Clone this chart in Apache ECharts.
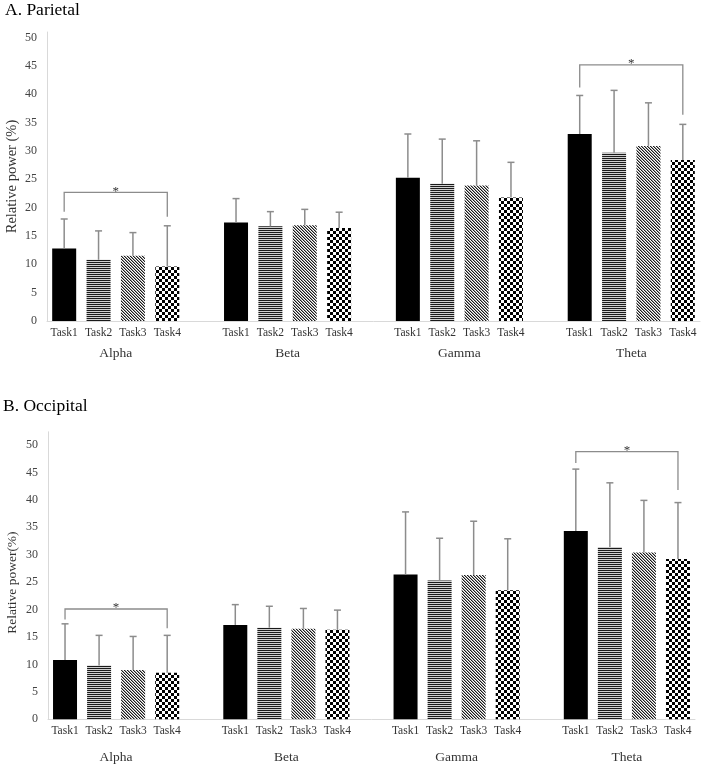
<!DOCTYPE html>
<html><head><meta charset="utf-8">
<script src="https://cdn.jsdelivr.net/npm/echarts@6/dist/echarts.min.js"></script>
<style>html,body{margin:0;padding:0;background:#fff}#chart{width:709px;height:768px}</style>
</head><body><div id="chart"></div>
<script>
// ---------- data ----------
const bands = ['Alpha', 'Beta', 'Gamma', 'Theta'];
const tasks = ['Task1', 'Task2', 'Task3', 'Task4'];
const panelTitles = ['A. Parietal', 'B. Occipital'];
const yAxisNames = ['Relative power (%)', 'Relative power(%)'];
const yTickStep = 5;
const yTickTop = 50;

// mean relative power (%) per task, in band order
const parietalTask1 = [12.8, 17.4, 25.3, 33.0];
const parietalTask2 = [10.8, 16.7, 24.2, 29.7];
const parietalTask3 = [11.5, 16.9, 23.9, 30.9];
const parietalTask4 = [9.6, 16.4, 21.8, 28.4];
// standard deviations (upper error bars)
const parietalSdTask1 = [5.2, 4.2, 7.7, 6.8];
const parietalSdTask2 = [5.1, 2.6, 7.9, 11.0];
const parietalSdTask3 = [4.1, 2.8, 7.9, 7.6];
const parietalSdTask4 = [7.2, 2.8, 6.2, 6.3];

const occipitalTask1 = [10.8, 17.2, 26.4, 34.3];
const occipitalTask2 = [9.8, 16.7, 25.3, 31.4];
const occipitalTask3 = [9.0, 16.5, 26.3, 30.4];
const occipitalTask4 = [8.5, 16.3, 23.5, 29.2];
const occipitalSdTask1 = [6.6, 3.7, 11.4, 11.3];
const occipitalSdTask2 = [5.5, 3.9, 7.7, 11.7];
const occipitalSdTask3 = [6.1, 3.7, 9.8, 9.5];
const occipitalSdTask4 = [6.8, 3.6, 9.4, 10.3];

// significance brackets: [band, fromTask, toTask, bracket level, left leg end, right leg end]
const parietalSig = [['Alpha', 'Task1', 'Task4', 22.7, 19.3, 18.4], ['Theta', 'Task1', 'Task4', 45.2, 41.2, 36.4]];
const occipitalSig = [['Alpha', 'Task1', 'Task4', 20.1, 18.2, 16.6], ['Theta', 'Task1', 'Task4', 48.8, 46.7, 41.8]];

// ---------- styles ----------
const FONT = 'Liberation Serif';
const gridSpecs = [
  { left: 47, top: 32, width: 653, height: 289, yMax: 51, nameGap: 27, nameSize: 14.5, namePad: [0, 0, 0, 0], bandOffset: 32 },
  { left: 48, top: 431.8, width: 647, height: 287.5, yMax: 52.4, nameGap: 29, nameSize: 13.5, namePad: [0, 14, 0, 0], bandOffset: 38.5 }
];
const titleTops = [1, 397];
const titleLefts = [5, 3];

function makePattern(w, h, fn) {
  const c = document.createElement('canvas');
  c.width = w; c.height = h;
  const ctx = c.getContext('2d');
  for (let y = 0; y < h; y++) for (let x = 0; x < w; x++) {
    ctx.fillStyle = fn(x, y);
    ctx.fillRect(x, y, 1, 1);
  }
  return { image: c, repeat: 'repeat' };
}
const fills = [
  '#000000',
  makePattern(2, 2, (x, y) => y === 0 ? '#1a1a1a' : '#cfcfcf'),
  makePattern(3, 3, (x, y) => { const d = (((x - y) % 3) + 3) % 3; return d === 0 ? '#1a1a1a' : (d === 1 ? '#9a9a9a' : '#ffffff'); }),
  makePattern(6, 6, (x, y) => (Math.floor(x / 3) + Math.floor(y / 3)) % 2 === 0 ? '#000000' : '#ffffff')
];

// ---------- slots: 4 tasks per band, an empty slot between bands ----------
const slots = [];
bands.forEach((b, bi) => {
  tasks.forEach(t => slots.push(b + '|' + t));
  if (bi < bands.length - 1) slots.push('gap' + bi + '|');
});
const slotOf = (band, task) => slots.indexOf(band + '|' + task);

const regions = [
  { means: [parietalTask1, parietalTask2, parietalTask3, parietalTask4], sds: [parietalSdTask1, parietalSdTask2, parietalSdTask3, parietalSdTask4], sig: parietalSig },
  { means: [occipitalTask1, occipitalTask2, occipitalTask3, occipitalTask4], sds: [occipitalSdTask1, occipitalSdTask2, occipitalSdTask3, occipitalSdTask4], sig: occipitalSig }
];

const grids = [], xAxes = [], yAxes = [], series = [], titles = [];
const ERR = '#8c8c8c';
const TXT = '#333333';

regions.forEach((r, g) => {
  const gs = gridSpecs[g];
  grids.push({ left: gs.left, top: gs.top, width: gs.width, height: gs.height, containLabel: false, outerBoundsMode: 'none' });
  titles.push({ text: panelTitles[g], left: titleLefts[g], top: titleTops[g], padding: 0,
    textStyle: { fontFamily: FONT, fontSize: 17.5, fontWeight: 'normal', color: '#000' } });
  xAxes.push({
    type: 'category', gridIndex: g, data: slots,
    axisLine: { show: true, lineStyle: { color: '#d9d9d9', width: 1 } },
    axisTick: { show: false },
    axisLabel: { interval: 0, margin: 6, fontFamily: FONT, fontSize: 11.5, color: TXT,
      formatter: v => v.split('|')[1] || '' },
    splitLine: { show: false }
  });
  yAxes.push({
    type: 'value', gridIndex: g, min: 0, max: gs.yMax, interval: yTickStep,
    name: yAxisNames[g], nameLocation: 'middle', nameGap: gs.nameGap, nameRotate: 90, nameMoveOverlap: false,
    nameTextStyle: { fontFamily: FONT, fontSize: gs.nameSize, color: TXT, padding: gs.namePad },
    axisLine: { show: true, lineStyle: { color: '#d9d9d9', width: 1 } },
    axisTick: { show: false },
    splitLine: { show: false },
    axisLabel: { margin: 10, fontFamily: FONT, fontSize: 12, color: '#444444',
      formatter: v => (v % yTickStep === 0 && v <= yTickTop) ? String(v) : '' }
  });

  // bars
  tasks.forEach((t, ti) => {
    const data = slots.map(() => '-');
    bands.forEach((b, bi) => { data[slotOf(b, t)] = r.means[ti][bi]; });
    series.push({ type: 'bar', name: t, xAxisIndex: g, yAxisIndex: g, data,
      barWidth: 24, barGap: '-100%', itemStyle: { color: fills[ti] }, silent: true, z: 2 });
  });

  // error bars
  const errData = [];
  tasks.forEach((t, ti) => bands.forEach((b, bi) => errData.push([slotOf(b, t), r.means[ti][bi], r.sds[ti][bi]])));
  series.push({
    type: 'custom', xAxisIndex: g, yAxisIndex: g, data: errData, encode: { x: 0, y: 1 }, silent: true, z: 3,
    renderItem: (p, api) => {
      const x = api.value(0), m = api.value(1), s = api.value(2);
      const p0 = api.coord([x, m]), p1 = api.coord([x, m + s]);
      return { type: 'group', children: [
        { type: 'line', shape: { x1: p0[0], y1: p0[1], x2: p1[0], y2: p1[1] }, style: { stroke: ERR, lineWidth: 1.5 } },
        { type: 'line', shape: { x1: p1[0] - 3.5, y1: p1[1], x2: p1[0] + 3.5, y2: p1[1] }, style: { stroke: ERR, lineWidth: 1.5 } }
      ] };
    }
  });

  // significance brackets
  const sigData = r.sig.map(s => [slotOf(s[0], s[1]), slotOf(s[0], s[2]), s[3], s[4], s[5]]);
  series.push({
    type: 'custom', xAxisIndex: g, yAxisIndex: g, data: sigData, encode: { x: 0, y: 2 }, silent: true, z: 4,
    renderItem: (p, api) => {
      const a = api.value(0), b = api.value(1), lv = api.value(2), le = api.value(3), re = api.value(4);
      const pl = api.coord([a, lv]), pr = api.coord([b, lv]);
      const pla = api.coord([a, le]), pra = api.coord([b, re]);
      return { type: 'group', children: [
        { type: 'polyline', shape: { points: [[pla[0], pla[1]], [pl[0], pl[1]], [pr[0], pr[1]], [pra[0], pra[1]]] },
          style: { stroke: ERR, lineWidth: 1.3, fill: null } },
        { type: 'text', style: { text: '*', x: (pl[0] + pr[0]) / 2, y: pl[1] - 1, align: 'center', verticalAlign: 'middle',
          font: '13px "' + FONT + '"', fill: TXT } }
      ] };
    }
  });

  // band labels under each group of tasks
  const bandData = bands.map(b => [slotOf(b, tasks[0]), slotOf(b, tasks[tasks.length - 1]), 0]);
  series.push({
    type: 'custom', xAxisIndex: g, yAxisIndex: g, data: bandData, encode: { x: 0, y: 2 }, silent: true, z: 4,
    renderItem: (p, api) => {
      const a = api.coord([api.value(0), 0]), b = api.coord([api.value(1), 0]);
      return { type: 'text', style: { text: bands[p.dataIndex], x: (a[0] + b[0]) / 2, y: a[1] + gs.bandOffset,
        align: 'center', verticalAlign: 'middle', font: '13.5px "' + FONT + '"', fill: TXT } };
    }
  });
});

const chart = echarts.init(document.getElementById('chart'), null, { renderer: 'canvas' });
chart.setOption({
  animation: false,
  backgroundColor: '#ffffff',
  title: titles,
  grid: grids,
  xAxis: xAxes,
  yAxis: yAxes,
  series
});
</script>
</body></html>
